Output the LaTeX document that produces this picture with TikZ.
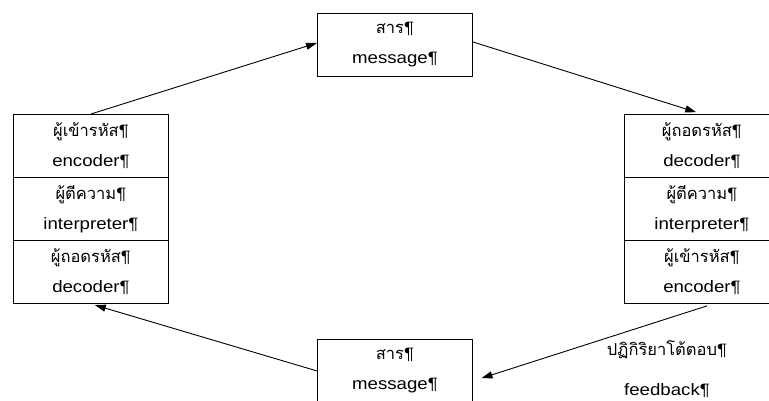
\documentclass[tikz,border=0pt]{standalone}
\usepackage{fontspec}
\setmainfont[FakeStretch=1.13]{Liberation Sans}
\newfontfamily\thaifont[Script=Thai]{Loma}
\newfontfamily\latinf[FakeStretch=1.13]{Liberation Sans}
\newcommand\pil{{\latinf ¶}}
\usetikzlibrary{arrows.meta,calc}
\tikzset{
  cell/.style={draw, line width=0.9pt, minimum width=155pt, minimum height=63pt, inner sep=0pt, anchor=north west, align=center, font=\fontsize{16.5}{30}\selectfont},
  conn/.style={line width=0.9pt, -{Triangle[length=11pt,width=7pt]}},
  lbl/.style={align=center, font=\fontsize{16.5}{40}\selectfont}
}
\begin{document}
\begin{tikzpicture}[x=1pt,y=-1pt]
\useasboundingbox (0,0) rectangle (769,401);
\node[cell] (t) at (317,13) {{\thaifont สาร}\pil\\message\pil};
\node[cell] (l1) at (13,114) {{\thaifont ผู้เข้ารหัส}\pil\\encoder\pil};
\node[cell] (l2) at (13,177) {{\thaifont ผู้ตีความ}\pil\\interpreter\pil};
\node[cell] (l3) at (13,240) {{\thaifont ผู้ถอดรหัส}\pil\\decoder\pil};
\node[cell] (r1) at (624,114) {{\thaifont ผู้ถอดรหัส}\pil\\decoder\pil};
\node[cell] (r2) at (624,177) {{\thaifont ผู้ตีความ}\pil\\interpreter\pil};
\node[cell] (r3) at (624,240) {{\thaifont ผู้เข้ารหัส}\pil\\encoder\pil};
\node[cell] (b) at (317,339) {{\thaifont สาร}\pil\\message\pil};
\node[lbl] (fb) at (667,369) {{\thaifont ปฏิกิริยาโต้ตอบ}\pil\\feedback\pil};
\coordinate (bin) at ($(b.east)+(0,10)$);
\coordinate (lin) at ($(l3.south)+(0,0)$);
\draw[conn] (l1.north) -- ($(t.west)+(0,-2)$);
\draw[conn, shorten >=6pt] ($(t.east)+(0,-3)$) -- (r1.north);
\draw[conn, shorten >=9pt] ($(r3.south)+(5,2)$) -- (bin);
\draw[conn, shorten >=4pt] (b.west) -- (lin);
\end{tikzpicture}
\end{document}
